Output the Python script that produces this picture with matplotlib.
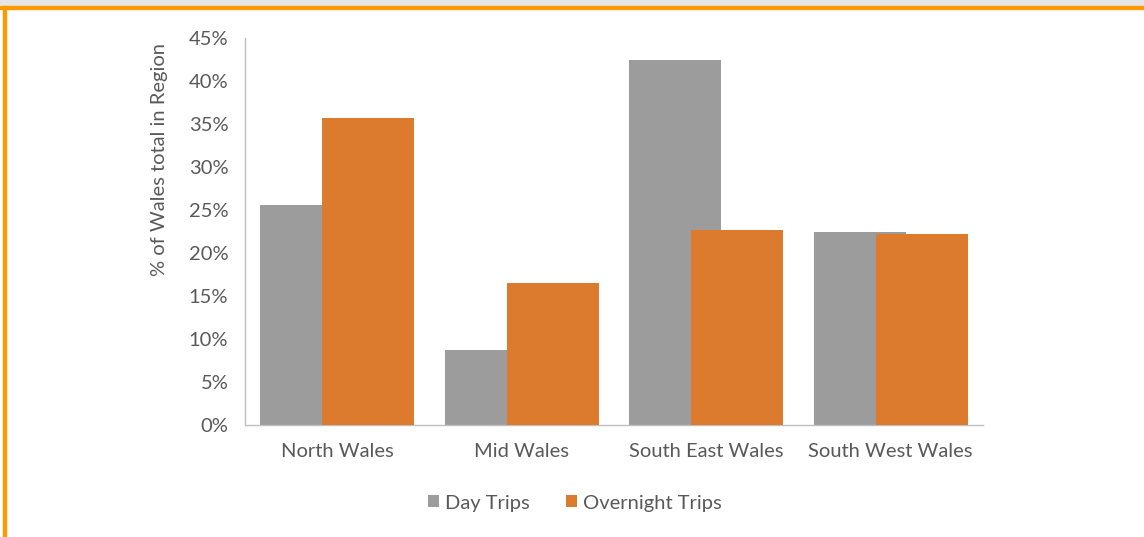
import matplotlib.pyplot as plt
import numpy as np
from matplotlib.patches import Rectangle

plt.rcParams['font.family'] = ['Lato', 'DejaVu Sans']

regions = ['North Wales', 'Mid Wales', 'South East Wales', 'South West Wales']
day_trips = [25.6, 8.7, 42.4, 22.5]
overnight_trips = [35.7, 16.5, 22.7, 22.2]
series_names = ['Day Trips', 'Overnight Trips']
y_ticks = [0, 5, 10, 15, 20, 25, 30, 35, 40, 45]

grey = '#9c9c9c'
orange = '#dc7a2e'
text_col = '#595959'
fs = 14.5

fig = plt.figure(figsize=(11.44, 5.37), dpi=100)
ax = fig.add_axes([245 / 1144, 1 - 425 / 537, (983 - 245) / 1144, (425 - 38) / 537])

x = np.arange(len(regions))
w = 0.5
ax.bar(x - 0.168, day_trips, w, color=grey, label=series_names[0], zorder=2)
ax.bar(x + 0.168, overnight_trips, w, color=orange, label=series_names[1], zorder=3)

ax.set_xlim(-0.5, 3.5)
ax.set_ylim(0, 45)
ax.set_yticks(y_ticks)
ax.set_yticklabels([f'{v}%' for v in y_ticks])
ax.set_xticks(x)
ax.set_xticklabels(regions)
ax.tick_params(axis='both', length=0, labelsize=fs, colors=text_col)
ax.tick_params(axis='y', pad=12)
ax.tick_params(axis='x', pad=13)

for s in ['top', 'right']:
    ax.spines[s].set_visible(False)
for s in ['left', 'bottom']:
    ax.spines[s].set_color('#bfbfbf')
    ax.spines[s].set_linewidth(1)

fig.text(160 / 1144, 1 - 160 / 537, '% of Wales total in Region', rotation=90,
         ha='center', va='center', fontsize=fs, color=text_col)

leg = ax.legend(loc='center', bbox_to_anchor=(575 / 1144, 1 - 503 / 537),
                bbox_transform=fig.transFigure, ncol=2, frameon=False,
                fontsize=fs, handlelength=0.55, handleheight=0.55, handletextpad=0.3,
                columnspacing=1.8)
for t in leg.get_texts():
    t.set_color(text_col)

# frame decoration
fig.patches.append(Rectangle((0, 1 - 6 / 537), 1, 6 / 537, transform=fig.transFigure,
                             color='#e6e6e6', zorder=0))
fig.patches.append(Rectangle((0, 1 - 9 / 537), 1, 3 / 537, transform=fig.transFigure,
                             color='#ff9900', zorder=1))
fig.patches.append(Rectangle((3 / 1144, 0), 3 / 1144, 1 - 6 / 537, transform=fig.transFigure,
                             color='#ff9900', zorder=1))

fig.savefig('out.png', dpi=100)
